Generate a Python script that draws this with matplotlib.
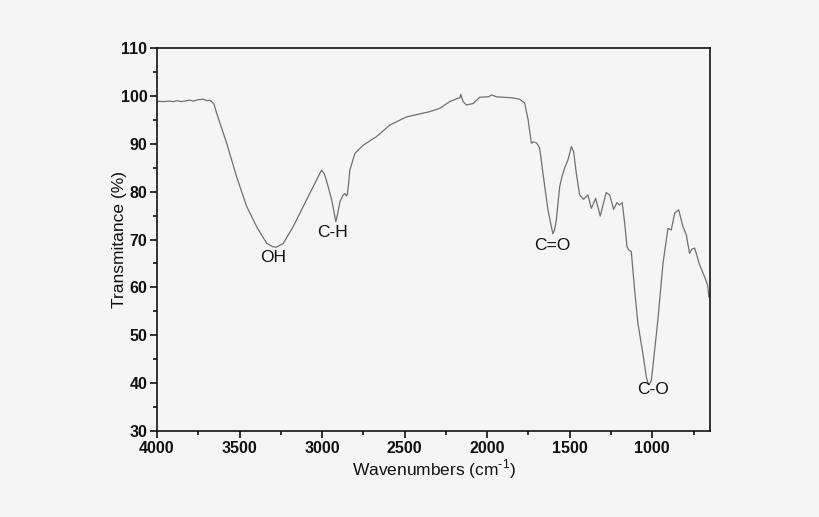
import matplotlib
matplotlib.use("Agg")
import matplotlib.pyplot as plt
from matplotlib.ticker import MultipleLocator

# Wavenumber (cm^-1) and transmittance (%)
wavenumber = [4000, 3960, 3930, 3900, 3880, 3850, 3820, 3800, 3780, 3750, 3720, 3700,
              3680, 3669, 3655, 3639, 3578, 3518, 3457, 3397, 3336, 3300, 3276, 3235,
              3175, 3094, 3040, 3003, 2985, 2963, 2940, 2917, 2905, 2892, 2872, 2862,
              2852, 2848, 2840, 2832, 2801, 2751, 2670, 2590, 2489, 2400, 2348, 2287,
              2227, 2176, 2165, 2160, 2146, 2126, 2085, 2045, 2004, 1990, 1974, 1944,
              1900, 1850, 1803, 1773, 1752, 1740, 1732, 1720, 1712, 1702, 1692, 1682,
              1662, 1632, 1612, 1602, 1592, 1581, 1561, 1547, 1531, 1511, 1490, 1476,
              1460, 1440, 1416, 1390, 1369, 1343, 1315, 1279, 1258, 1234, 1214, 1198,
              1182, 1167, 1153, 1142, 1127, 1107, 1087, 1057, 1036, 1026, 1016, 1006,
              996, 966, 935, 905, 885, 864, 840, 814, 794, 774, 760, 743, 713, 683,
              665, 657, 650]
transmittance = [98.9, 98.8, 98.9, 98.8, 99.0, 98.8, 99.0, 99.1, 98.9, 99.2, 99.3, 99.0,
                 99.1, 98.8, 98.3, 96.4, 90.1, 83.1, 76.9, 72.7, 69.2, 68.5, 68.4, 69.2,
                 72.7, 78.3, 82.0, 84.5, 83.6, 81.0, 78.0, 73.7, 75.5, 77.9, 79.3, 79.6,
                 79.1, 79.3, 81.5, 84.5, 88.0, 89.7, 91.5, 93.9, 95.6, 96.3, 96.7, 97.4,
                 98.8, 99.5, 99.6, 100.3, 98.8, 98.1, 98.4, 99.7, 99.8, 99.8, 100.2, 99.8,
                 99.7, 99.6, 99.3, 98.5, 95.0, 92.0, 90.1, 90.4, 90.3, 90.2, 89.7, 89.1,
                 83.8, 76.2, 72.8, 71.2, 72.0, 74.1, 81.0, 83.1, 84.9, 86.6, 89.4, 88.3,
                 83.8, 79.3, 78.4, 79.3, 76.5, 78.6, 74.9, 79.8, 79.3, 76.3, 77.7, 77.2,
                 77.7, 73.4, 68.5, 67.8, 67.5, 59.5, 52.5, 46.2, 41.3, 40.0, 39.8, 40.5,
                 43.5, 53.2, 65.0, 72.3, 72.0, 75.5, 76.2, 72.7, 71.0, 67.1, 68.0, 68.2,
                 64.7, 62.2, 60.5, 58.0, 58.3]

peak_labels = ["OH", "C-H", "C=O", "C-O"]
peak_x = [3298, 2935, 1608, 996]
peak_y = [66.2, 71.4, 68.7, 38.6]

plt.rcParams['font.family'] = ['Liberation Sans', 'DejaVu Sans']
plt.rcParams['mathtext.fontset'] = 'custom'
plt.rcParams['mathtext.rm'] = 'Liberation Sans'
bg = '#f5f5f5'

fig = plt.figure(figsize=(8.2, 5.17), dpi=100, facecolor=bg)
ax = fig.add_axes([0.1915, 0.1663, 0.6744, 0.7409])
ax.set_facecolor(bg)

ax.plot(wavenumber, transmittance, color='#707070', linewidth=0.9)

for lab, px, py in zip(peak_labels, peak_x, peak_y):
    ax.text(px, py, lab, ha='center', va='center', fontsize=12.5, color='#111111')

ax.set_xlim(4000, 650)
ax.set_ylim(30, 110)
ax.xaxis.set_major_locator(MultipleLocator(500))
ax.xaxis.set_minor_locator(MultipleLocator(250))
ax.yaxis.set_major_locator(MultipleLocator(10))
ax.yaxis.set_minor_locator(MultipleLocator(5))

ax.tick_params(which='both', direction='out', top=False, right=False, width=1.2, colors='#111111')
ax.tick_params(which='major', length=5, labelsize=11.5, pad=2)
ax.tick_params(which='minor', length=3)
for lab in ax.get_xticklabels() + ax.get_yticklabels():
    lab.set_fontweight('bold')
for sp in ax.spines.values():
    sp.set_linewidth(1.2)
    sp.set_color('#111111')

ax.set_xlabel('Wavenumbers (cm$^{\\text{-1}}$)', fontsize=12.5, color='#111111')
ax.set_ylabel('Transmitance (%)', fontsize=12.5, color='#111111')
ax.yaxis.set_label_coords(-0.055, 0.5)
ax.xaxis.set_label_coords(0.5, -0.068)

fig.savefig('out.png', dpi=100, facecolor=bg)
